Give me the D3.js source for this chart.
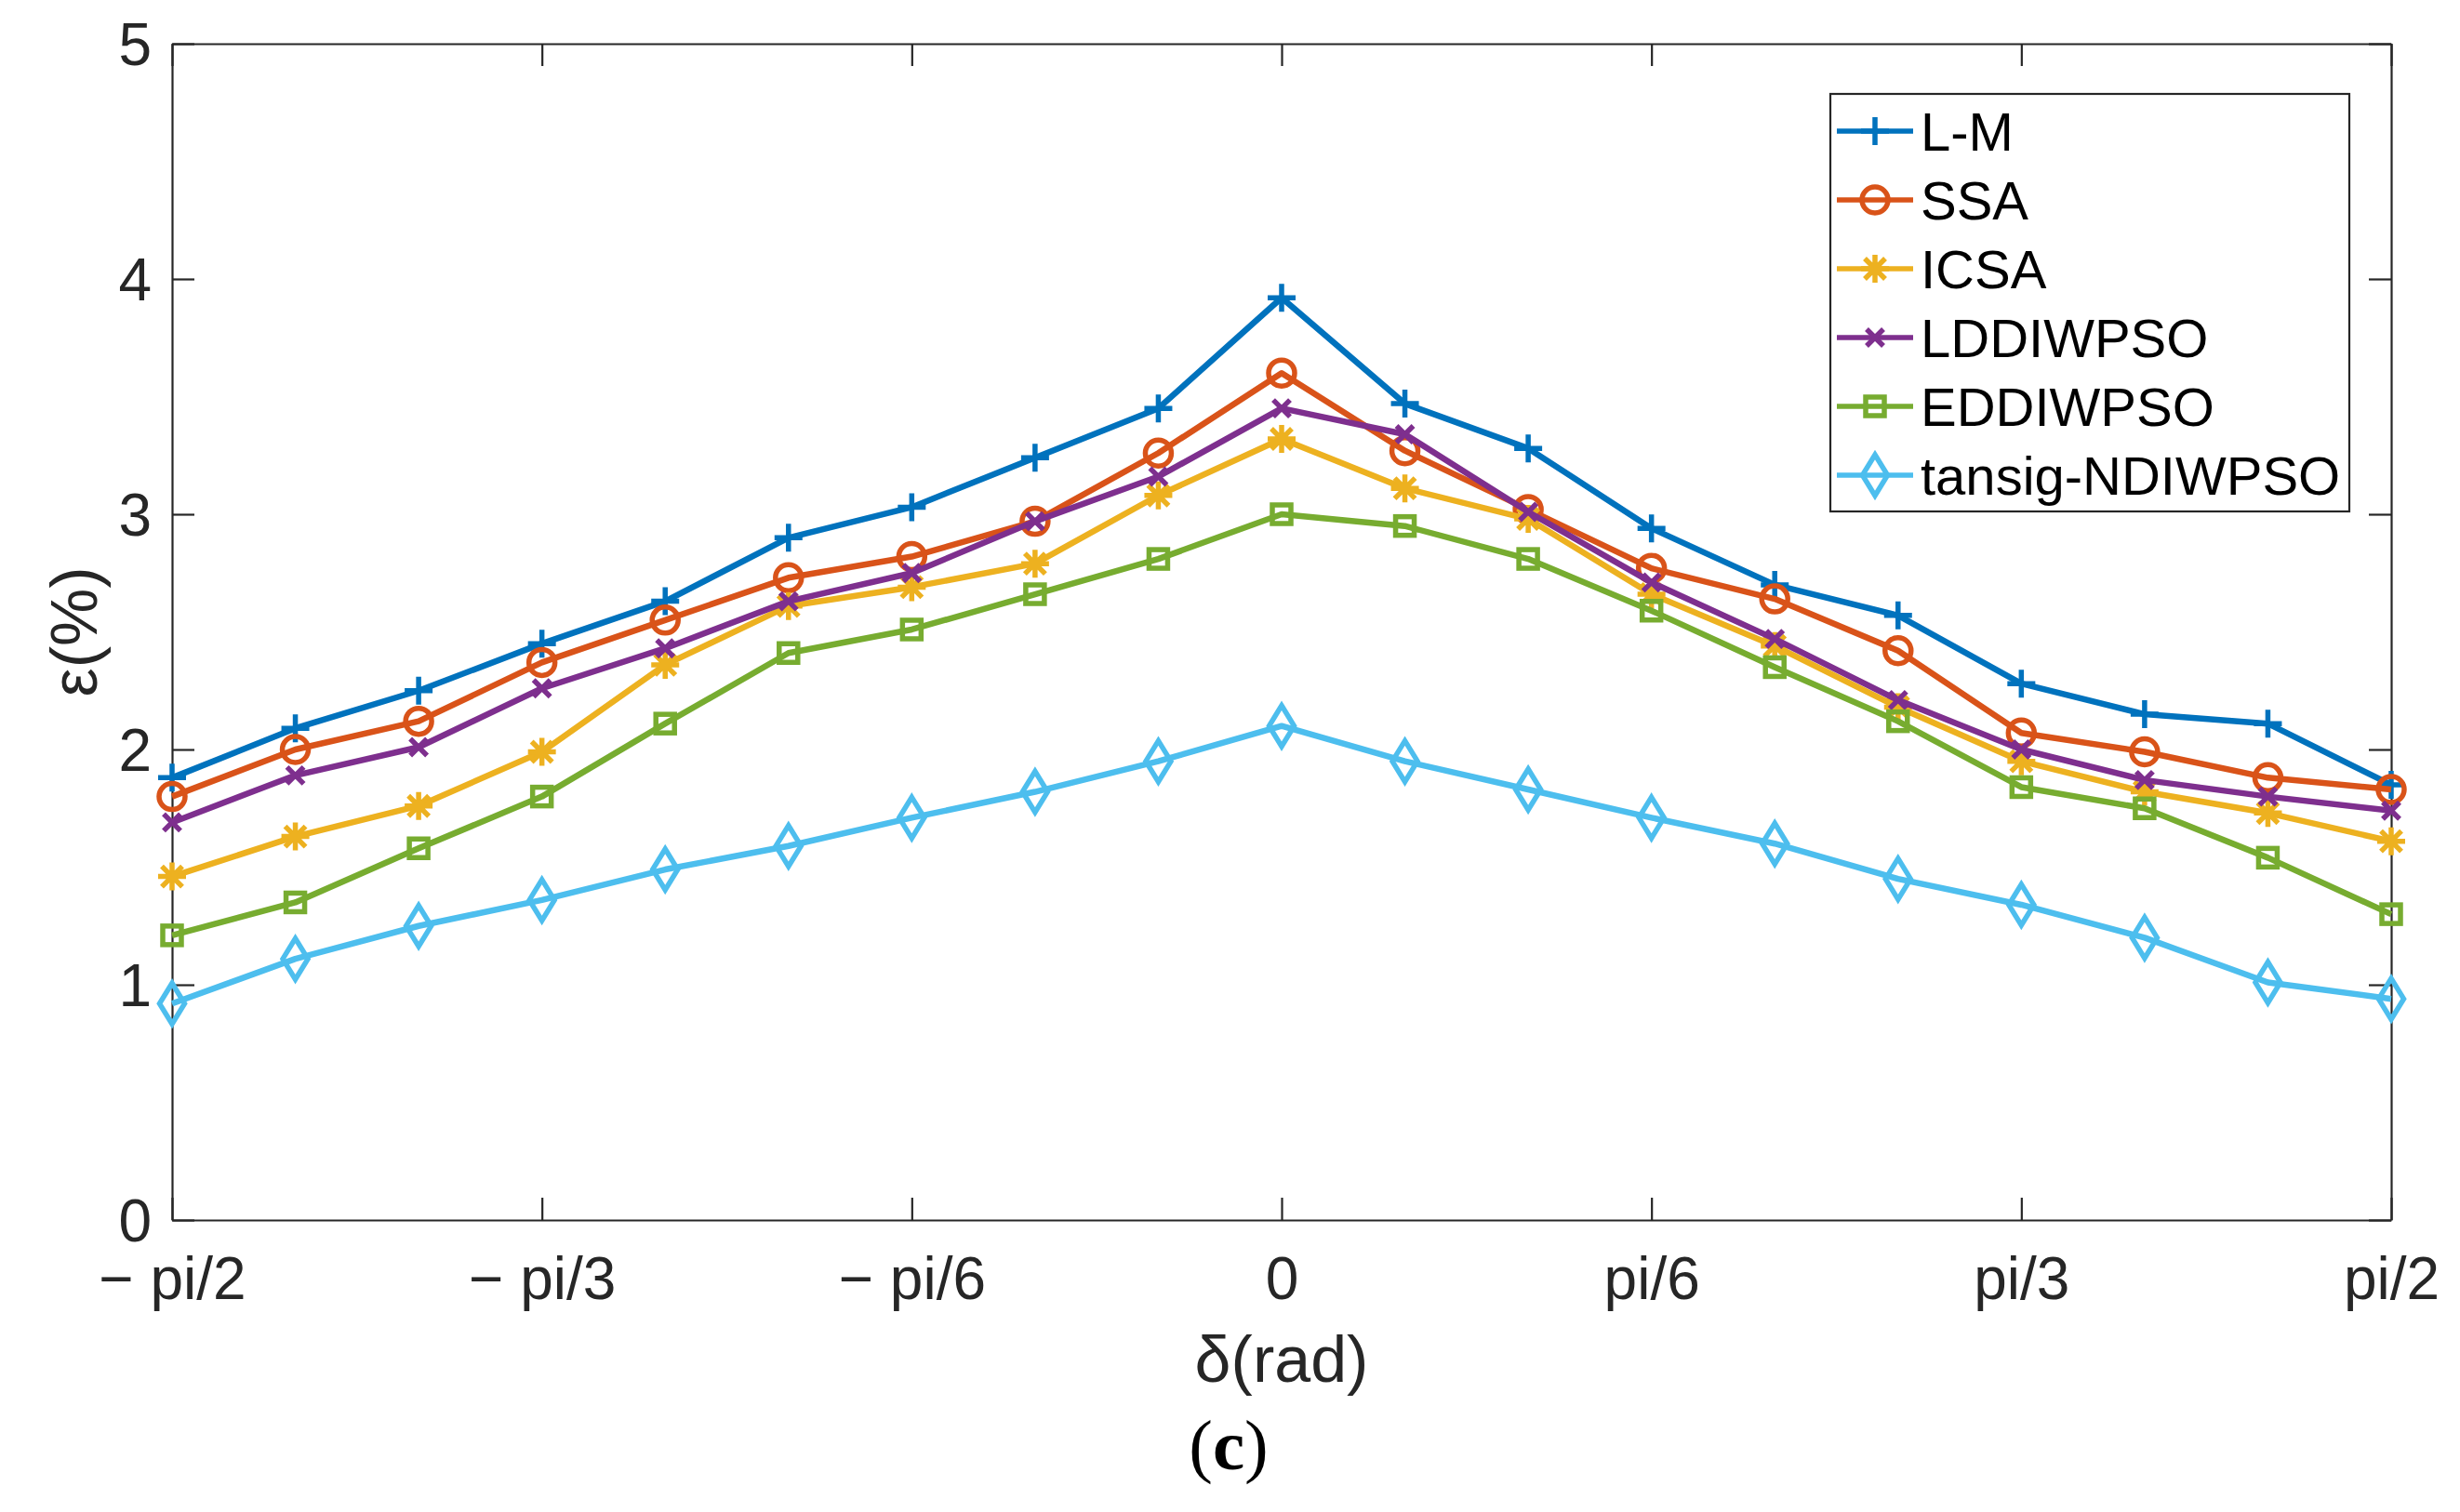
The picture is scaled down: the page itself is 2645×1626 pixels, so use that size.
<!DOCTYPE html>
<html>
<head>
<meta charset="utf-8">
<script src="https://cdn.jsdelivr.net/npm/d3@7"></script>
<style>
    body { margin: 0; background: #fff; }
    svg { display: block; }
</style>
</head>
<body>
<div id="chart"></div>
<script>
// deviation angle in degrees (-pi/2 .. pi/2, step pi/18)
const xDeg = [-90, -80, -70, -60, -50, -40, -30, -20, -10, 0, 10, 20, 30, 40, 50, 60, 70, 80, 90];

const seriesNames = ['L-M', 'SSA', 'ICSA', 'LDDIWPSO', 'EDDIWPSO', 'tansig-NDIWPSO'];

const lmValues       = [1.88, 2.09, 2.25, 2.45, 2.63, 2.90, 3.03, 3.24, 3.45, 3.92, 3.47, 3.28, 2.94, 2.70, 2.57, 2.28, 2.15, 2.11, 1.85];
const ssaValues      = [1.80, 2.00, 2.12, 2.37, 2.55, 2.73, 2.82, 2.97, 3.26, 3.60, 3.27, 3.02, 2.77, 2.64, 2.42, 2.07, 1.99, 1.88, 1.83];
const icsaValues     = [1.46, 1.63, 1.76, 1.99, 2.36, 2.61, 2.69, 2.79, 3.08, 3.32, 3.11, 2.98, 2.66, 2.44, 2.18, 1.95, 1.82, 1.73, 1.61];
const lddiwpsoValues = [1.69, 1.89, 2.01, 2.26, 2.43, 2.63, 2.75, 2.97, 3.16, 3.45, 3.34, 3.01, 2.71, 2.47, 2.21, 2.00, 1.87, 1.80, 1.74];
const eddiwpsoValues = [1.21, 1.35, 1.58, 1.80, 2.11, 2.41, 2.51, 2.66, 2.81, 3.00, 2.95, 2.81, 2.59, 2.35, 2.12, 1.84, 1.75, 1.54, 1.30];
const tansigValues   = [0.92, 1.11, 1.25, 1.36, 1.49, 1.59, 1.71, 1.82, 1.95, 2.10, 1.95, 1.83, 1.71, 1.60, 1.45, 1.34, 1.20, 1.01, 0.94];

const xTickValues = [-Math.PI / 2, -Math.PI / 3, -Math.PI / 6, 0, Math.PI / 6, Math.PI / 3, Math.PI / 2];
const xTickLabels = ['\u2212 pi/2', '\u2212 pi/3', '\u2212 pi/6', '0', 'pi/6', 'pi/3', 'pi/2'];
const yTickValues = [0, 1, 2, 3, 4, 5];

(function(){
    var width = 2645,
        height = 1626,
        plotLeft = 185,
        plotRight = 2571,
        plotTop = 47,
        plotBottom = 1312,
        tickLen = 24,
        lineW = 6.5,
        axisColor = '#262626',
        font = '"Liberation Sans", Arial, Helvetica, sans-serif';

    var colors = ['#0072BD', '#D95319', '#EDB120', '#7E2F8E', '#77AC30', '#4DBEEE'];
    var markers = ['plus', 'circle', 'star', 'cross', 'square', 'diamond'];
    var allValues = [lmValues, ssaValues, icsaValues, lddiwpsoValues, eddiwpsoValues, tansigValues];

    var svg = d3.select('#chart').append('svg')
        .attr('width', width)
        .attr('height', height);

    var x = d3.scaleLinear().domain([-Math.PI / 2, Math.PI / 2]).range([plotLeft, plotRight]);
    var y = d3.scaleLinear().domain([0, 5]).range([plotBottom, plotTop]);

    // axes (ticks inward on all four sides, like a matlab box)
    function styleAxis(g){
        g.select('.domain').attr('stroke', axisColor).attr('stroke-width', 2.2);
        g.selectAll('.tick line').attr('stroke', axisColor).attr('stroke-width', 2.2);
        g.selectAll('.tick text')
            .attr('fill', axisColor)
            .style('font-family', font)
            .style('font-size', '64px');
    }

    var xAxis = svg.append('g')
        .attr('transform', 'translate(0,' + plotBottom + ')')
        .call(d3.axisBottom(x).tickValues(xTickValues)
            .tickFormat((d, i) => xTickLabels[i])
            .tickSizeInner(-tickLen).tickSizeOuter(0));
    styleAxis(xAxis);
    xAxis.selectAll('.tick text').attr('y', 85).attr('dy', 0);

    var xAxisTop = svg.append('g')
        .attr('transform', 'translate(0,' + plotTop + ')')
        .call(d3.axisTop(x).tickValues(xTickValues).tickFormat('')
            .tickSizeInner(-tickLen).tickSizeOuter(0));
    styleAxis(xAxisTop);

    var yAxis = svg.append('g')
        .attr('transform', 'translate(' + plotLeft + ',0)')
        .call(d3.axisLeft(y).tickValues(yTickValues).tickFormat(d3.format('d'))
            .tickSizeInner(-tickLen).tickSizeOuter(0));
    styleAxis(yAxis);
    yAxis.selectAll('.tick text').attr('x', -22).attr('dy', '0.35em');

    var yAxisRight = svg.append('g')
        .attr('transform', 'translate(' + plotRight + ',0)')
        .call(d3.axisRight(y).tickValues(yTickValues).tickFormat('')
            .tickSizeInner(-tickLen).tickSizeOuter(0));
    styleAxis(yAxisRight);

    // axis titles
    svg.append('text')
        .attr('x', (plotLeft + plotRight) / 2)
        .attr('y', 1486)
        .attr('text-anchor', 'middle')
        .attr('fill', axisColor)
        .style('font-family', font)
        .style('font-size', '70px')
        .text('\u03b4(rad)');

    svg.append('text')
        .attr('transform', 'translate(104,' + (plotTop + plotBottom) / 2 + ') rotate(-90)')
        .attr('text-anchor', 'middle')
        .attr('fill', axisColor)
        .style('font-family', font)
        .style('font-size', '70px')
        .text('\u03b5(%)');

    svg.append('text')
        .attr('x', 1321)
        .attr('y', 1580)
        .attr('text-anchor', 'middle')
        .attr('fill', '#000')
        .style('font-family', '"Liberation Serif", "Times New Roman", serif')
        .style('font-size', '77px')
        .html('(<tspan font-weight="bold">c</tspan>)');

    // marker shapes, centred on 0,0
    function drawMarker(g, type, color){
        var m;
        if(type == 'circle'){
            m = g.append('circle').attr('r', 14);
        }
        else if(type == 'square'){
            m = g.append('rect').attr('x', -10).attr('y', -10).attr('width', 20).attr('height', 20);
        }
        else{
            var paths = {
                plus: 'M-15,0H15M0,-15V15',
                star: 'M-15,0H15M0,-15V15M-11,-11L11,11M-11,11L11,-11',
                cross: 'M-9,-9L9,9M-9,9L9,-9',
                diamond: 'M0,-22L13.5,0L0,22L-13.5,0Z'
            };
            m = g.append('path').attr('d', paths[type]);
        }
        m.attr('fill', 'none')
            .attr('stroke', color)
            .attr('stroke-width', lineW - 1);
    }

    var line = d3.line()
        .x(d => x(d.deg * Math.PI / 180))
        .y(d => y(d.v));

    allValues.forEach(function(values, s){
        const pts = values.map((v, i) => ({ deg: xDeg[i], v: v }));
        const g = svg.append('g').attr('class', 'series');

        g.append('path')
            .datum(pts)
            .attr('d', line)
            .attr('fill', 'none')
            .attr('stroke', colors[s])
            .attr('stroke-width', lineW)
            .attr('stroke-linejoin', 'round');

        g.selectAll('g.mk')
            .data(pts)
            .enter().append('g')
            .attr('class', 'mk')
            .attr('transform', d => 'translate(' + x(d.deg * Math.PI / 180) + ',' + y(d.v) + ')')
            .each(function(){ drawMarker(d3.select(this), markers[s], colors[s]); });
    });

    // legend
    var legend = svg.append('g').attr('transform', 'translate(1968,101)');

    legend.append('rect')
        .attr('width', 558)
        .attr('height', 449)
        .attr('fill', '#fff')
        .attr('stroke', axisColor)
        .attr('stroke-width', 2.2);

    seriesNames.forEach(function(name, i){
        const row = legend.append('g').attr('transform', 'translate(0,' + (40 + i * 74) + ')');

        row.append('line')
            .attr('x1', 7).attr('x2', 89)
            .attr('stroke', colors[i])
            .attr('stroke-width', lineW - 1);

        drawMarker(row.append('g').attr('transform', 'translate(48,0)'), markers[i], colors[i]);

        row.append('text')
            .attr('x', 97)
            .attr('y', 0)
            .attr('dy', '0.36em')
            .attr('fill', '#000')
            .style('font-family', font)
            .style('font-size', '58px')
            .text(name);
    });
})();
</script>
</body>
</html>
